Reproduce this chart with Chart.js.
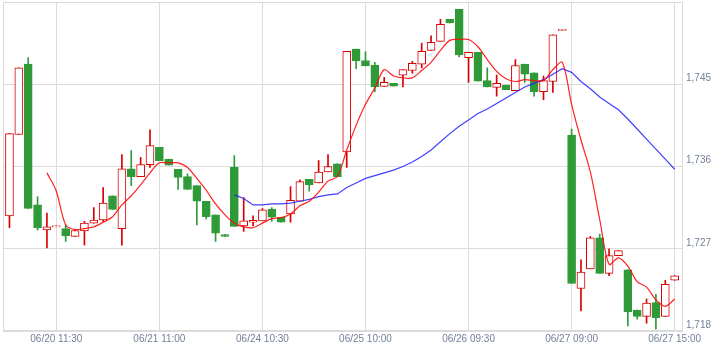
<!DOCTYPE html>
<head>
    <script src='https://cdn.jsdelivr.net/npm/chart.js'></script>
    <style>
        body { margin: 0; background: #fff; }
    </style>
</head>
<body>
    <canvas id='myChart' width='719' height='349'></canvas>
    <script>
        // candle data, one entry per bar (index 0..71)
        let opens = [1730.6, 1739.5, 1747.2, 1731.8, 1729.05, 1729.4, 1729.2, 1728.35, 1728.95, 1729.8,
            1730.15, 1732.8, 1729.2, 1735.75, 1734.9, 1736.2, 1738.1, 1736.8, 1735.7, 1734.9,
            1733.9, 1732.2, 1730.7, 1728.55, 1735.9, 1729.5, 1729.9, 1730.05, 1731.3, 1730.45,
            1730.8, 1732.2, 1734.6, 1734.2, 1735.4, 1736.3, 1737.6, 1748.85, 1747.6, 1747.1,
            1744.75, 1745.1, 1746.0, 1746.5, 1747.2, 1748.7, 1749.7, 1752.1, 1753.2, 1747.9,
            1748.5, 1745.4, 1744.65, 1744.9, 1744.3, 1747.2, 1746.25, 1744.2, 1745.3, 1750.9,
            1739.45, 1722.65, 1724.8, 1728.2, 1724.3, 1726.25, 1724.7, 1720.3, 1719.6, 1721.1,
            1719.6, 1723.55]
        let closes = [1739.6, 1746.8, 1731.4, 1729.3, 1729.4, 1729.5, 1728.4, 1729.0, 1729.8, 1730.15,
            1732.0, 1731.3, 1735.75, 1734.9, 1736.2, 1738.3, 1736.65, 1736.15, 1734.8, 1733.5,
            1732.2, 1730.5, 1728.7, 1728.35, 1729.45, 1730.05, 1730.1, 1731.25, 1730.45, 1729.9,
            1732.3, 1734.35, 1734.0, 1735.4, 1736.0, 1734.9, 1748.6, 1747.55, 1747.0, 1744.7,
            1745.2, 1744.8, 1746.6, 1747.3, 1748.6, 1749.6, 1751.55, 1751.7, 1748.2, 1748.5,
            1745.35, 1744.7, 1745.1, 1744.4, 1747.05, 1746.1, 1744.2, 1745.4, 1750.4, 1751.0,
            1723.2, 1724.45, 1728.2, 1724.3, 1726.25, 1726.8, 1720.1, 1719.6, 1721.05, 1719.45,
            1723.1, 1724.05]
        let highs = [1739.6, 1746.8, 1747.9, 1732.7, 1730.9, 1729.5, 1729.6, 1729.1, 1730.0, 1731.5,
            1733.7, 1732.8, 1737.3, 1737.75, 1737.0, 1740.0, 1738.1, 1736.8, 1735.7, 1735.2,
            1733.9, 1732.2, 1730.7, 1728.55, 1737.2, 1732.6, 1730.6, 1731.4, 1731.5, 1730.45,
            1733.8, 1734.55, 1734.6, 1736.65, 1737.3, 1736.3, 1748.6, 1748.85, 1748.55, 1747.4,
            1745.75, 1745.1, 1746.6, 1747.5, 1749.5, 1750.3, 1752.1, 1752.1, 1753.2, 1748.5,
            1748.5, 1746.8, 1746.0, 1744.9, 1747.7, 1747.2, 1746.25, 1745.9, 1750.4, 1751.0,
            1740.1, 1725.8, 1728.35, 1728.6, 1727.0, 1726.8, 1724.7, 1720.3, 1721.5, 1722.0,
            1723.55, 1724.05]
        let lows = [1729.3, 1739.5, 1731.4, 1729.05, 1727.1, 1729.4, 1727.8, 1728.35, 1727.4, 1729.8,
            1730.0, 1731.3, 1727.4, 1733.9, 1734.9, 1735.9, 1736.65, 1736.15, 1733.5, 1733.5,
            1729.6, 1730.25, 1727.8, 1728.35, 1729.45, 1728.9, 1729.5, 1730.05, 1730.0, 1729.9,
            1729.9, 1732.2, 1733.3, 1734.2, 1735.4, 1734.9, 1735.9, 1746.7, 1747.0, 1744.2,
            1744.75, 1744.8, 1744.7, 1746.2, 1746.8, 1748.7, 1749.7, 1751.7, 1748.0, 1745.2,
            1745.35, 1744.7, 1743.7, 1744.4, 1744.3, 1745.2, 1743.7, 1743.3, 1744.1, 1750.9,
            1723.2, 1720.2, 1724.8, 1724.3, 1724.05, 1726.25, 1718.55, 1719.3, 1718.85, 1718.2,
            1719.6, 1723.55]

        // moving averages (null where the line has not started)
        let ma5 = [null, null, null, null,
            1735.3, 1733.3, 1729.6, 1729.1, 1729.2, 1729.4, 1729.9, 1730.5, 1731.8, 1732.8,
            1734.0, 1735.3, 1736.4, 1736.4, 1736.4, 1735.9, 1734.7, 1733.4, 1731.9, 1730.7,
            1729.8, 1729.4, 1729.3, 1729.8, 1730.3, 1730.4, 1730.8, 1731.7, 1732.2, 1733.2,
            1734.4, 1734.9, 1737.8, 1740.5, 1742.8, 1744.6, 1746.6, 1745.9, 1745.7, 1745.7,
            1746.5, 1747.4, 1748.7, 1749.8, 1749.9, 1749.9, 1749.1, 1747.7, 1746.4, 1745.6,
            1745.3, 1745.5, 1745.4, 1745.4, 1746.6, 1747.4, 1742.8, 1738.9, 1735.4, 1730.2,
            1725.3, 1726.0, 1725.1, 1723.4, 1722.8, 1721.4, 1720.7, 1721.5]
        let ma25 = [null, null, null, null, null, null, null, null, null, null, null, null,
            null, null, null, null, null, null, null, null, null, null, null, null,
            1732.9, 1732.5, 1731.8, 1731.8, 1731.9, 1731.9, 1732.0, 1732.2, 1732.4, 1732.7,
            1732.9, 1733.0, 1733.7, 1734.2, 1734.7, 1735.0, 1735.3, 1735.6, 1736.0, 1736.5,
            1737.1, 1737.8, 1738.7, 1739.6, 1740.4, 1741.1, 1741.8, 1742.3, 1742.9, 1743.5,
            1744.1, 1744.7, 1745.1, 1745.5, 1746.1, 1746.7, 1746.3, 1745.3, 1744.5, 1743.6,
            1742.9, 1742.2, 1741.2, 1740.1, 1739.0, 1737.9, 1736.8, 1735.7]

        // x axis labels and the bar index they sit on
        let tickIndex = [5, 16, 27, 38, 49, 60, 71]
        let tickLabels = ['06/20 11:30', '06/21 11:00', '06/24 10:30', '06/25 10:00', '06/26 09:30', '06/27 09:00', '06/27 15:00']
        let yTicks = [1718, 1727, 1736, 1745]

        let red = '#d90000'
        let green = '#2f9a38'
        let up = closes.map((c, i) => c >= opens[i])

        let frame = {
            id: 'frame',
            beforeDatasetsDraw(chart) {
                let a = chart.chartArea, ctx = chart.ctx
                ctx.save()
                ctx.strokeStyle = '#d9d9d9'
                ctx.lineWidth = 1
                ctx.strokeRect(a.left + 0.5, a.top + 0.5, a.right - a.left - 1, a.bottom - a.top - 1)
                ctx.restore()
            }
        }

        let tickFont = { family: 'Liberation Sans, Arial, sans-serif', size: 10 }
        let ctx = document.getElementById('myChart').getContext('2d')
        let chart = new Chart(ctx, {
            type: 'bar',
            data: {
                datasets: [
                    {
                        type: 'line',
                        label: 'MA5',
                        data: ma5.map((v, i) => ({ x: i, y: v })),
                        borderColor: 'rgba(255, 10, 10, 0.9)',
                        borderWidth: 1.2,
                        pointRadius: 0,
                        tension: 0.3,
                        order: 0,
                    },
                    {
                        type: 'line',
                        label: 'MA25',
                        data: ma25.map((v, i) => ({ x: i, y: v })),
                        borderColor: 'rgba(30, 30, 255, 0.85)',
                        borderWidth: 1.2,
                        pointRadius: 0,
                        tension: 0,
                        order: 0,
                    },
                    {
                        label: 'body',
                        data: closes.map((c, i) => ({ x: i, y: [opens[i], c] })),
                        backgroundColor: up.map(u => u ? '#ffffff' : green),
                        borderColor: up.map(u => u ? red : green),
                        borderWidth: 1,
                        borderSkipped: false,
                        barThickness: 8,
                        grouped: false,
                        order: 1,
                    },
                    {
                        label: 'wick',
                        data: highs.map((h, i) => ({ x: i, y: [lows[i], h] })),
                        backgroundColor: up.map(u => u ? red : green),
                        borderWidth: 0,
                        barThickness: 1,
                        grouped: false,
                        order: 2,
                    },
                ],
            },
            options: {
                responsive: false,
                animation: false,
                layout: { padding: { left: 3, top: 2, right: 0, bottom: 0 } },
                plugins: { legend: { display: false }, tooltip: { enabled: false } },
                scales: {
                    x: {
                        type: 'linear',
                        offset: false,
                        min: -0.69,
                        max: 71.89,
                        afterBuildTicks: s => { s.ticks = tickIndex.map(v => ({ value: v })) },
                        afterFit: s => { s.height = 18; s.paddingLeft = 0; s.paddingRight = 0 },
                        grid: { color: '#dcdcdc', drawTicks: false, offset: false },
                        border: { display: false },
                        ticks: {
                            padding: 2,
                            color: '#74809a',
                            font: tickFont,
                            maxRotation: 0,
                            autoSkip: false,
                            callback: v => tickLabels[tickIndex.indexOf(v)],
                        },
                    },
                    y: {
                        position: 'right',
                        min: 1718,
                        max: 1754,
                        afterBuildTicks: s => { s.ticks = yTicks.map(v => ({ value: v })) },
                        afterFit: s => { s.width = 36; s.paddingTop = 0; s.paddingBottom = 0 },
                        grid: { color: '#dcdcdc', drawTicks: false },
                        border: { display: false },
                        ticks: {
                            padding: 3,
                            labelOffset: -6,
                            color: '#74809a',
                            font: tickFont,
                            callback: v => v.toLocaleString('en-US'),
                        },
                    },
                },
            },
            plugins: [frame],
        })
    </script>
</body>
